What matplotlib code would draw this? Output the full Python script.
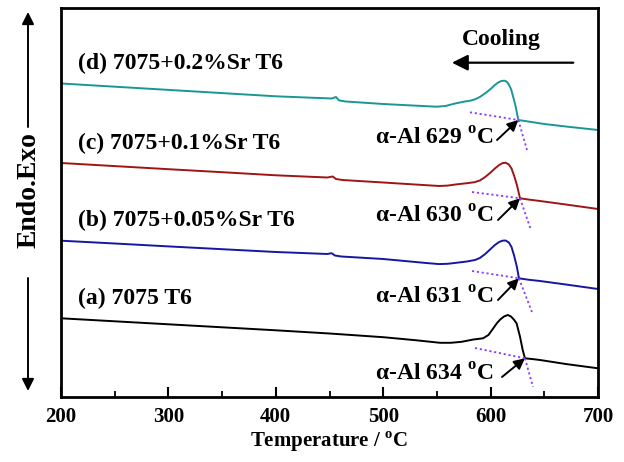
import numpy as np
import matplotlib
matplotlib.use("Agg")
import matplotlib.pyplot as plt

plt.rcParams['font.family'] = ['Liberation Serif', 'DejaVu Serif']
plt.rcParams['font.weight'] = 'bold'
plt.rcParams['axes.labelweight'] = 'bold'
plt.rcParams['mathtext.fontset'] = 'custom'
plt.rcParams['mathtext.rm'] = 'Liberation Serif:bold'
plt.rcParams['mathtext.bf'] = 'Liberation Serif:bold'

# DSC cooling curves (signal in arbitrary units, offset per sample)
T_d = [200, 250, 300, 350, 400, 440, 452, 456, 459, 465, 500, 540, 550, 558,
       567, 576, 581, 585.5, 590, 595, 600, 604, 607, 610, 613, 615, 617, 619,
       621, 623.4, 625.8, 635, 650, 670, 700]
S_d = [313.5, 310.3, 307.1, 303.9, 300.7, 299, 298.5, 300, 296.5, 295.5, 293,
       290.8, 290.3, 291, 293.5, 295.5, 296.3, 297.7, 300, 303.7, 308, 312,
       314.5, 316, 316.3, 315.3, 312.5, 308, 300.3, 290.3, 277, 275.5, 273,
       270.5, 267]

T_c = [200, 250, 300, 350, 400, 448, 453, 456, 462, 500, 540, 552, 560, 568,
       578, 585, 590, 595, 600, 604, 608, 611, 614, 617, 619.5, 622, 624.5,
       627.4, 635, 646, 670, 700]
S_c = [234, 230.9, 227.8, 224.8, 221.7, 219.5, 220.5, 218, 217, 214.5, 211.8,
       211, 211.4, 212.6, 213.8, 214.8, 216.5, 220, 224.5, 228.5, 232, 233.8,
       234.3, 232.5, 228.5, 221, 212, 198.7, 197.5, 196, 192.5, 188]

T_b = [200, 250, 300, 350, 400, 448, 452, 455, 461, 500, 540, 552, 560, 568,
       578, 585.5, 590, 595, 600, 604, 608, 611, 614, 617, 619.5, 622, 624.5,
       626.4, 635, 646, 670, 700]
S_b = [156.3, 153.5, 150.6, 147.8, 145, 143, 143.8, 141.5, 140.5, 138, 134,
       132.9, 133.2, 134.2, 135.5, 137, 139, 143, 148, 152, 155, 156.3, 156.5,
       154.5, 150, 141, 130, 118.7, 117.3, 116, 112.5, 108]

T_a = [200, 250, 300, 350, 400, 450, 500, 530, 553, 563, 573, 584, 593, 598,
       602.5, 606, 609, 612.5, 616, 619, 622, 624.2, 627.4, 629.9, 632, 640,
       646, 670, 700]
S_a = [78.7, 75.7, 72.7, 69.7, 66.7, 63.5, 59.8, 56.8, 54.2, 54.2, 55.2, 57.5,
       58.7, 62, 68.7, 74, 77.5, 80.5, 82, 80.5, 77, 73.7, 60.3, 47, 38.7,
       37.8, 37, 33, 28.7]

# tangent lines: [start, onset, end]
tan_T = [[580.8, 625.8, 633.9], [582.7, 627.4, 637.6],
         [582.7, 626.4, 638.5], [585.5, 632.0, 639.5]]
tan_S = [[284.7, 277, 247], [205, 198.7, 167],
         [126, 118.7, 85], [49, 38.7, 10]]

onset = [629, 630, 631, 634]
names = ['(d) 7075+0.2%Sr T6', '(c) 7075+0.1%Sr T6',
         '(b) 7075+0.05%Sr T6', '(a) 7075 T6']
colors = ['#1a9696', '#9e1515', '#1616a0', 'black']

fig = plt.figure(figsize=(6.24, 4.62), dpi=100)
ax = fig.add_axes([0.0978, 0.1407, 0.8605, 0.842])

curves = [(T_d, S_d), (T_c, S_c), (T_b, S_b), (T_a, S_a)]
for (t, s), c in zip(curves, colors):
    ax.plot(t, s, color=c, lw=1.4, solid_joinstyle='round')

label_y = [334, 254, 177, 99]
txt_y = [258, 180, 99, 22]
tail = [(606, 257), (606.9, 177), (606.9, 97), (610.6, 20)]
for i in range(4):
    tt, ss = tan_T[i], tan_S[i]
    ax.plot(tt[:2], ss[:2], ls=(0, (1.2, 1.5)), color='#8a3cff', lw=1.3)
    ax.plot(tt[1:], ss[1:], ls=(0, (1.2, 1.5)), color='#8a3cff', lw=1.3)
    ax.text(215.5, label_y[i], names[i], fontsize=17, va='center', ha='left')
    ax.text(603, txt_y[i], 'α-Al %d $^{\\mathbf{o}}$C' % onset[i],
            fontsize=17, va='center', ha='right')
    ax.annotate('', xy=(tt[1], ss[1]), xytext=tail[i],
                arrowprops=dict(arrowstyle='-|>', color='k', lw=1.4,
                                mutation_scale=16, shrinkA=0, shrinkB=0))

# cooling arrow
ax.text(610, 357, 'Cooling', fontsize=17, ha='center', va='center')
ax.annotate('', xy=(564, 334.3), xytext=(677, 334.3),
            arrowprops=dict(arrowstyle='-|>', color='k', lw=1.6,
                            mutation_scale=24, shrinkA=0, shrinkB=0))

ax.set_xlim(200, 700)
ax.set_ylim(0, 389)
ax.set_xticks([200, 300, 400, 500, 600, 700])
ax.set_xticks(np.arange(250, 700, 100), minor=True)
ax.set_yticks([])
ax.tick_params(axis='x', which='major', direction='in', length=7, width=1.5,
               labelsize=15, pad=7)
ax.tick_params(axis='x', which='minor', direction='in', length=4, width=1.3)
for sp in ax.spines.values():
    sp.set_linewidth(2)
ax.set_xlabel('Temperature / $^{\\mathbf{o}}$C', fontsize=15, labelpad=2,
              fontweight='bold')

# Endo / Exo side arrows
fig.text(29 / 624, 1 - 190 / 462, 'Endo.Exo', rotation=90, fontsize=20,
         ha='center', va='center')
ax.annotate('', xy=(28 / 624, 1 - 12 / 462), xytext=(28 / 624, 1 - 127 / 462),
            xycoords='figure fraction', textcoords='figure fraction',
            arrowprops=dict(arrowstyle='-|>', color='k', lw=1.4,
                            mutation_scale=18, shrinkA=0, shrinkB=0))
ax.annotate('', xy=(28 / 624, 1 - 391 / 462), xytext=(28 / 624, 1 - 278 / 462),
            xycoords='figure fraction', textcoords='figure fraction',
            arrowprops=dict(arrowstyle='-|>', color='k', lw=1.4,
                            mutation_scale=18, shrinkA=0, shrinkB=0))

fig.savefig('out.png', dpi=100)
